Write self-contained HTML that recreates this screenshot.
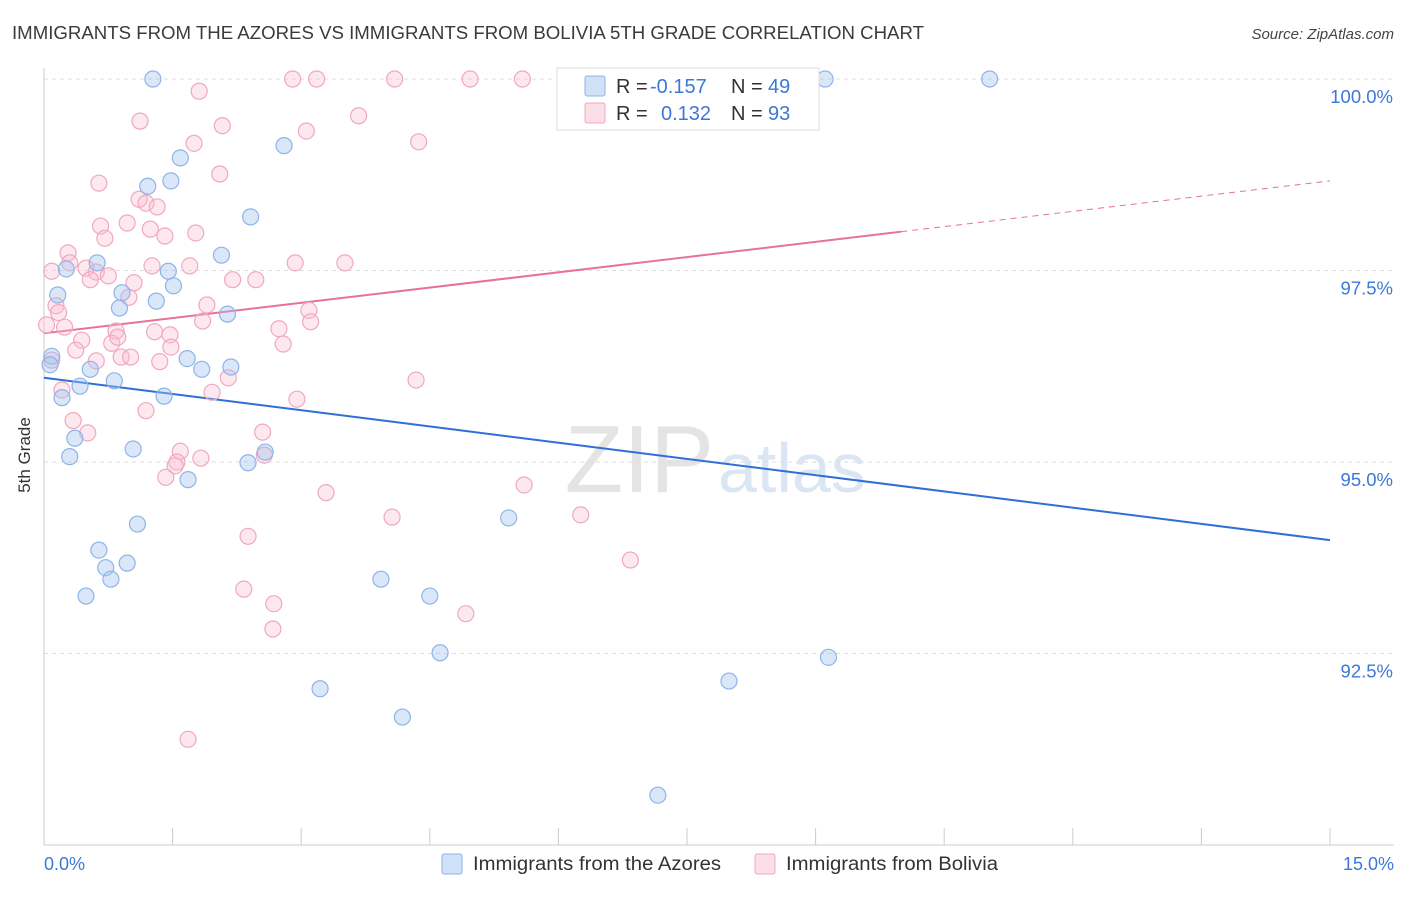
<!DOCTYPE html>
<html><head><meta charset="utf-8"><style>
body{margin:0;background:#fff;font-family:"Liberation Sans",sans-serif}
svg text{font-family:"Liberation Sans",sans-serif}
</style></head><body>
<svg id="chart" width="1406" height="892" viewBox="0 0 1406 892">
<text x="12" y="39" font-size="18" fill="#3a3a3a" textLength="912" lengthAdjust="spacingAndGlyphs">IMMIGRANTS FROM THE AZORES VS IMMIGRANTS FROM BOLIVIA 5TH GRADE CORRELATION CHART</text>
<text x="1394" y="39" font-size="15" fill="#444" font-style="italic" text-anchor="end">Source: ZipAtlas.com</text>
<text x="714" y="492" font-size="96" fill="#e4e4e4" text-anchor="end" font-family="Liberation Serif">ZIP</text>
<text x="718" y="492" font-size="70" fill="#dbe6f4">atlas</text>
<g id="grid"></g><g id="axes"></g><g id="lines"></g><g id="pts"></g>
<text x="30" y="455" font-size="17" fill="#333" text-anchor="middle" transform="rotate(-90 30 455)">5th Grade</text>
<text x="44" y="870" font-size="18" fill="#3c78d8">0.0%</text>
<text x="1394" y="870" font-size="18" fill="#3c78d8" text-anchor="end">15.0%</text>
<g>
<rect x="557" y="68" width="262" height="62" fill="#fff" stroke="#ddd"/>
<rect x="585" y="76" width="20" height="20" fill="rgba(160,195,240,0.5)" stroke="#8fb4e8" rx="2"/>
<rect x="585" y="103" width="20" height="20" fill="rgba(248,190,210,0.5)" stroke="#f0a8c0" rx="2"/>
<text x="616" y="93" font-size="20" fill="#333">R = <tspan x="650" fill="#3c78d8">-0.157</tspan><tspan x="731">N = </tspan><tspan x="768" fill="#3c78d8">49</tspan></text>
<text x="616" y="120" font-size="20" fill="#333">R = <tspan x="661" fill="#3c78d8">0.132</tspan><tspan x="731">N = </tspan><tspan x="768" fill="#3c78d8">93</tspan></text>
</g>
<g>
<rect x="442" y="854" width="20" height="20" fill="rgba(160,195,240,0.5)" stroke="#8fb4e8" rx="2"/>
<text x="473" y="870" font-size="19" fill="#333" textLength="248" lengthAdjust="spacingAndGlyphs">Immigrants from the Azores</text></g>
<g>
<rect x="755" y="854" width="20" height="20" fill="rgba(248,190,210,0.5)" stroke="#f0a8c0" rx="2"/>
<text x="786" y="870" font-size="19" fill="#333" textLength="212" lengthAdjust="spacingAndGlyphs">Immigrants from Bolivia</text></g>
</svg>
<script>
const yTicks=[100,97.5,95,92.5];
const yTickLabels=["100.0%","97.5%","95.0%","92.5%"];
const xTicks=[0,1.5,3,4.5,6,7.5,9,10.5,12,13.5,15];
const azoresX=[1.27,9.11,11.03,2.80,1.59,1.48,1.21,2.41,2.07,0.62,0.26,1.45,1.51,0.16,0.91,1.31,0.88,2.14,0.09,0.07,1.67,0.54,1.84,2.18,0.82,0.42,0.21,1.40,0.36,0.30,1.04,2.58,2.38,1.68,5.42,1.09,0.64,0.72,0.97,0.78,0.49,3.93,4.50,4.62,9.15,7.99,3.22,4.18,7.16];
const azoresY=[100,100,100,99.13,98.97,98.67,98.60,98.20,97.70,97.60,97.52,97.49,97.30,97.18,97.21,97.10,97.01,96.93,96.38,96.27,96.35,96.21,96.21,96.24,96.06,95.99,95.84,95.86,95.31,95.07,95.17,95.13,94.99,94.77,94.27,94.19,93.85,93.62,93.68,93.47,93.25,93.47,93.25,92.51,92.45,92.14,92.04,91.67,90.65];
const boliviaX=[0.09,0.03,2.90,3.18,4.09,4.97,5.58,8.93,1.81,1.12,2.08,3.06,3.67,4.37,1.75,0.64,2.05,1.11,1.19,1.32,0.66,0.97,1.24,0.71,1.41,1.77,0.28,0.30,0.49,0.61,0.75,0.54,1.26,1.70,2.20,2.47,2.93,3.51,1.05,0.99,0.14,0.17,1.90,3.09,0.24,1.85,3.11,0.84,1.29,1.47,2.74,0.44,0.79,0.86,1.48,2.79,0.37,0.61,0.90,1.01,1.35,0.09,0.21,2.15,4.34,1.96,2.95,1.19,0.34,0.51,2.55,1.59,1.83,1.55,1.53,2.57,1.42,3.29,5.60,4.06,6.26,2.38,6.84,2.33,2.68,4.92,2.67,1.68];
const boliviaY=[97.49,96.79,100,100,100,100,100,100,99.84,99.45,99.39,99.32,99.52,99.18,99.16,98.64,98.76,98.43,98.38,98.33,98.08,98.12,98.04,97.92,97.95,97.99,97.73,97.60,97.53,97.48,97.43,97.38,97.56,97.56,97.38,97.38,97.60,97.60,97.34,97.15,97.04,96.95,97.05,96.98,96.76,96.84,96.83,96.71,96.70,96.66,96.74,96.59,96.55,96.63,96.50,96.54,96.46,96.32,96.37,96.37,96.31,96.33,95.94,96.10,96.07,95.91,95.82,95.67,95.54,95.38,95.39,95.14,95.05,95.00,94.95,95.09,94.80,94.60,94.70,94.28,94.31,94.03,93.72,93.34,93.15,93.02,92.82,91.38];
const azoresTrend=[96.10,93.98];
const boliviaTrend=[96.68,98.67];
const boliviaSolidEnd=10;
const NS="http://www.w3.org/2000/svg";
const X=v=>44+v/15*1286;
const Y=v=>79+(100-v)*76.6;
function mk(t,a,p){const e=document.createElementNS(NS,t);for(const k in a)e.setAttribute(k,a[k]);document.getElementById(p).appendChild(e);return e;}
yTicks.forEach((t,i)=>{
 const l=mk('line',{x1:44,x2:1394,y1:Y(t),y2:Y(t),stroke:'#ddd','stroke-dasharray':'4,4'},'grid');
 
 
 const tx=mk('text',{x:1393,y:Y(t)+24,'font-size':18.5,fill:'#3c78d8','text-anchor':'end'},'grid');
 tx.textContent=yTickLabels[i];
 
 
});
const ax=mk('line',{x1:44,x2:1394,y1:845,y2:845,stroke:'#ccc'},'axes');


const ay=mk('line',{x1:44,x2:44,y1:68,y2:845,stroke:'#ccc'},'axes');


xTicks.forEach(t=>{
 const l=mk('line',{x1:X(t),x2:X(t),y1:828,y2:845,stroke:'#ccc'},'axes');
 
 
});
function pts(xs,ys,fill,stroke,name){xs.forEach((x,i)=>{
 const c=mk('circle',{cx:X(x),cy:Y(ys[i]),r:8,fill:fill,stroke:stroke,'stroke-width':1.2},'pts');
 
 
});}
pts(boliviaX,boliviaY,'rgba(248,190,210,0.35)','#f0a8c0','bolivia-point');
pts(azoresX,azoresY,'rgba(160,195,240,0.4)','#8fb4e8','azores-point');
const bl=mk('line',{x1:X(0),y1:Y(azoresTrend[0]),x2:X(15),y2:Y(azoresTrend[1]),stroke:'#2f6fd6','stroke-width':2},'lines');


const pm=boliviaTrend[0]+(boliviaTrend[1]-boliviaTrend[0])*boliviaSolidEnd/15;
const pl=mk('line',{x1:X(0),y1:Y(boliviaTrend[0]),x2:X(boliviaSolidEnd),y2:Y(pm),stroke:'#e8709a','stroke-width':2},'lines');


const pd=mk('line',{x1:X(boliviaSolidEnd),y1:Y(pm),x2:X(15),y2:Y(boliviaTrend[1]),stroke:'#e8709a','stroke-width':1,'stroke-dasharray':'6,5'},'lines');


</script>
</body></html>
